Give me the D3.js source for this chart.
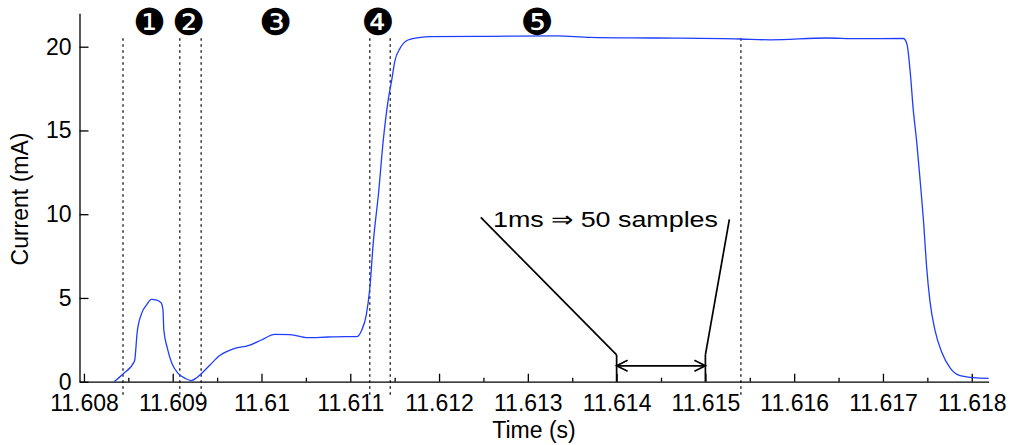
<!DOCTYPE html>
<html>
<head>
<meta charset="utf-8">
<script src="https://cdn.jsdelivr.net/npm/d3@7"></script>
<style>
  body { margin: 0; background: #fff; }
  svg text { font-family: "Liberation Sans", Arial, Helvetica, sans-serif; fill: #000; }
</style>
</head>
<body>
<div id="chart"></div>
<script>
// current trace
var timeS = [11.60834, 11.60844, 11.60857, 11.6086, 11.60865, 11.60871, 11.60876, 11.60882, 11.60887, 11.60889,
    11.6089, 11.60894, 11.60899, 11.60906, 11.60914, 11.60921, 11.60927, 11.60933, 11.60942, 11.60953,
    11.6097, 11.60985, 11.610, 11.61015, 11.61032, 11.61052, 11.61075, 11.61094, 11.61107, 11.61113,
    11.61118, 11.61122, 11.61126, 11.61132, 11.61137, 11.61143, 11.61147, 11.6115, 11.61156, 11.61165,
    11.61179, 11.6119, 11.61257, 11.61333, 11.6137, 11.61445, 11.61539, 11.61573, 11.61637, 11.6167,
    11.61723, 11.61727, 11.61731, 11.61734, 11.61738, 11.61742, 11.61746, 11.61749, 11.61753, 11.61759,
    11.61766, 11.61776, 11.61787, 11.61802, 11.61819];
var currentMA = [0.0, 0.46, 1.24, 2.97, 4.08, 4.62, 4.91, 4.87, 4.70, 4.28,
    3.09, 1.99, 1.10, 0.50, 0.20, 0.07, 0.24, 0.52, 1.0, 1.56,
    1.99, 2.15, 2.49, 2.82, 2.81, 2.63, 2.67, 2.69, 2.69, 3.09,
    3.98, 5.58, 8.36, 11.34, 14.33, 16.92, 18.11, 19.10, 19.90, 20.40,
    20.56, 20.60, 20.62, 20.65, 20.56, 20.52, 20.46, 20.41, 20.52, 20.48,
    20.49, 20.16, 18.31, 16.32, 14.33, 11.94, 9.36, 6.97, 4.78, 2.99,
    1.79, 0.80, 0.36, 0.24, 0.20];

// phase boundaries (dotted) and phase numbers
var markerTimes = [11.60844, 11.60908, 11.60932, 11.61122, 11.61145, 11.6154];
var phaseLabels = ["\u2776", "\u2777", "\u2778", "\u2779", "\u277A"];
var phaseTimes = [11.60874, 11.60918, 11.61016, 11.61131, 11.6131];

// axis ticks
var xTickValues = [11.608, 11.609, 11.610, 11.611, 11.612, 11.613, 11.614, 11.615, 11.616, 11.617, 11.618];
var xTickLabels = ["11.608", "11.609", "11.61", "11.611", "11.612", "11.613", "11.614", "11.615", "11.616", "11.617", "11.618"];
var xMinorTicks = [11.6085, 11.6095, 11.6105, 11.6115, 11.6125, 11.6135, 11.6145, 11.6155, 11.6165, 11.6175];
var yTickValues = [0, 5, 10, 15, 20];

// 1 ms bracket annotation
var bracketStart = 11.614, bracketEnd = 11.615;
var annotationText = "1ms \u21D2 50 samples";

var width = 1011, height = 445;
var svg = d3.select("#chart").append("svg")
    .attr("width", width)
    .attr("height", height);

var x = d3.scaleLinear().domain([11.60795, 11.61819]).range([79.5, 988.6]);
var y = d3.scaleLinear().domain([0, 22]).range([381.7, 13.2]);

// dotted phase lines (they run a bit under the axis)
svg.selectAll(".marker")
    .data(markerTimes)
    .enter().append("line")
    .attr("class", "marker")
    .attr("x1", function(d) { return x(d); })
    .attr("x2", function(d) { return x(d); })
    .attr("y1", y(20.5))
    .attr("y2", y(-0.9))
    .attr("stroke", "#000")
    .attr("stroke-width", 1.2)
    .attr("stroke-dasharray", "2.5,3.5");

// axes
var xAxis = svg.append("g")
    .attr("transform", "translate(0," + y(0) + ")")
    .call(d3.axisBottom(x)
        .tickValues(xTickValues)
        .tickFormat(function(d, i) { return xTickLabels[i]; })
        .tickSizeInner(-8)
        .tickSizeOuter(0)
        .tickPadding(13));

var xMinor = svg.append("g")
    .attr("transform", "translate(0," + y(0) + ")")
    .call(d3.axisBottom(x)
        .tickValues(xMinorTicks)
        .tickFormat("")
        .tickSizeInner(-4)
        .tickSizeOuter(0));
xMinor.select(".domain").remove();

var yAxis = svg.append("g")
    .attr("transform", "translate(" + x.range()[0] + ",0)")
    .call(d3.axisLeft(y)
        .tickValues(yTickValues)
        .tickSizeInner(-9)
        .tickSizeOuter(0)
        .tickPadding(8));

svg.selectAll(".tick text").style("font-size", "23px").style("font-family", "Liberation Sans, Arial, sans-serif");
svg.selectAll(".domain, .tick line").attr("stroke", "#000").attr("stroke-width", 1.3);

// axis titles
svg.append("text")
    .attr("x", 534)
    .attr("y", 438)
    .attr("text-anchor", "middle")
    .style("font-size", "23px")
    .text("Time (s)");

svg.append("text")
    .attr("transform", "translate(28,199) rotate(-90)")
    .attr("text-anchor", "middle")
    .style("font-size", "23px")
    .text("Current (mA)");

// current trace
var line = d3.line()
    .x(function(d) { return x(d[0]); })
    .y(function(d) { return y(d[1]); })
    .curve(d3.curveMonotoneX);

svg.append("path")
    .datum(timeS.map(function(t, i) { return [t, currentMA[i]]; }))
    .attr("d", line)
    .attr("fill", "none")
    .attr("stroke", "#1f3dff")
    .attr("stroke-width", 1.3);

// phase numbers
svg.selectAll(".phase")
    .data(phaseLabels)
    .enter().append("text")
    .attr("class", "phase")
    .attr("x", function(d, i) { return x(phaseTimes[i]); })
    .attr("y", y(21.55))
    .attr("dy", "0.39em")
    .attr("text-anchor", "middle")
    .style("font-family", "DejaVu Sans")
    .style("font-size", "37px")
    .text(function(d) { return d; });

// 1 ms bracket
var ann = svg.append("g")
    .attr("stroke", "#000")
    .attr("stroke-width", 1.7)
    .attr("fill", "none");

ann.append("line")
    .attr("x1", x(bracketStart)).attr("x2", x(bracketStart))
    .attr("y1", y(1.6)).attr("y2", y(0));
ann.append("line")
    .attr("x1", x(bracketEnd)).attr("x2", x(bracketEnd))
    .attr("y1", y(1.6)).attr("y2", y(0));
ann.append("line")
    .attr("x1", x(bracketStart)).attr("x2", x(bracketEnd))
    .attr("y1", y(0.95)).attr("y2", y(0.95));
ann.append("polyline")
    .attr("points", [[x(bracketStart) + 11, y(0.95) - 5.5], [x(bracketStart), y(0.95)], [x(bracketStart) + 11, y(0.95) + 5.5]].join(" "));
ann.append("polyline")
    .attr("points", [[x(bracketEnd) - 11, y(0.95) - 5.5], [x(bracketEnd), y(0.95)], [x(bracketEnd) - 11, y(0.95) + 5.5]].join(" "));

// leader lines up to the label
ann.append("line")
    .attr("x1", x(bracketStart)).attr("y1", y(1.6))
    .attr("x2", x(11.61247)).attr("y2", y(9.81));
ann.append("line")
    .attr("x1", x(bracketEnd)).attr("y1", y(1.6))
    .attr("x2", x(11.61527)).attr("y2", y(9.69));

svg.append("text")
    .attr("x", 493)
    .attr("y", 227)
    .attr("textLength", 225)
    .attr("lengthAdjust", "spacingAndGlyphs")
    .style("font-size", "22px")
    .text(annotationText);
</script>
</body>
</html>
